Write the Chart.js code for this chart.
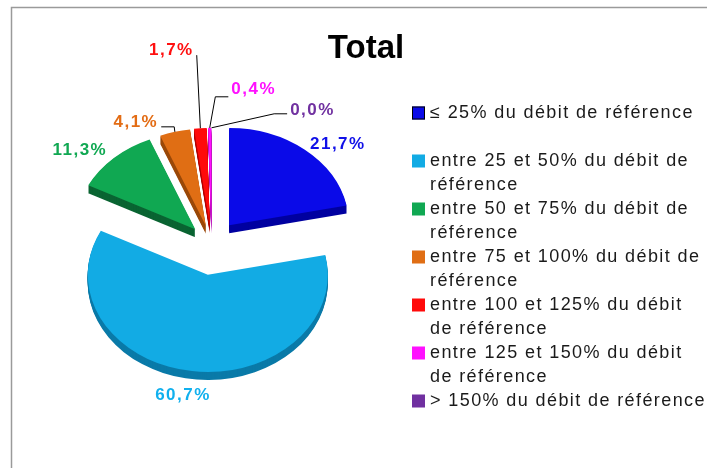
<!DOCTYPE html>
<html>
<head>
<meta charset="utf-8">
<script src="https://cdn.jsdelivr.net/npm/chart.js@4.4.0/dist/chart.umd.min.js"></script>
<style>
  body { margin: 0; background: #fff; }
  #chart { display: block; }
</style>
</head>
<body>
<canvas id="chart" width="707" height="468"></canvas>
<script>
// Data
const chartTitle = "Total";
const categories = [
  "≤ 25% du débit de référence",
  "entre 25 et 50% du débit de référence",
  "entre 50 et 75% du débit de référence",
  "entre 75 et 100% du débit de référence",
  "entre 100 et 125% du débit de référence",
  "entre 125 et 150% du débit de référence",
  "> 150% du débit de référence"
];
const shares = [21.7, 60.7, 11.3, 4.1, 1.7, 0.4, 0.0];

// Styles
const sliceColors = ["#0a0ae8", "#12abe4", "#10a852", "#e06e14", "#ff0a0a", "#ff10ff", "#7030a0"];
const sideColors = ["#0000a0", "#0a7aa8", "#0a6432", "#9a4808", "#b00000", "#b000b0", "#4a1a70"];
const labelColors = ["#1010e8", "#10b0ee", "#10a852", "#e36c14", "#ff1010", "#ff10ff", "#7030a0"];
const tilt = 0.81;      // vertical squash of the pie
const depth = 8;        // 3D thickness in px
const explode = [28, 28, 24, 22, 22, 22, 22];
const labelNudge = [[33, -6], [-9, 24], [-34, -8], [-39, -10], [-29, -78], [44, -38], [101, -17]];
const leaders = [null, null, null,
  { side: "right", stub: 13, dy: 5 },
  { side: "right", stub: 0, dy: 5 },
  { side: "left", stub: 13, dy: 7 },
  { side: "left", stub: 13, dy: 3 }];

// Frame round the chart
const framePlugin = {
  id: "frame",
  beforeDraw(chart) {
    const ctx = chart.ctx;
    ctx.save();
    ctx.fillStyle = "#fff";
    ctx.fillRect(0, 0, chart.width, chart.height);
    ctx.strokeStyle = "#9a9a9a";
    ctx.lineWidth = 1.5;
    ctx.beginPath();
    ctx.moveTo(11.5, chart.height);
    ctx.lineTo(11.5, 7.5);
    ctx.lineTo(chart.width, 7.5);
    ctx.stroke();
    ctx.restore();
  }
};

// Tilted, exploded pie with a bit of thickness
const pie3dPlugin = {
  id: "pie3d",
  beforeDatasetsDraw(chart) {
    const ctx = chart.ctx;
    const arcs = chart.getDatasetMeta(0).data;

    const withFrame = (a, i, extraY, fn) => {
      const m = (a.startAngle + a.endAngle) / 2;
      ctx.save();
      ctx.translate(Math.cos(m) * explode[i], Math.sin(m) * explode[i] + extraY);
      ctx.translate(a.x, a.y);
      ctx.scale(1, tilt);
      ctx.translate(-a.x, -a.y);
      fn();
      ctx.restore();
    };

    // sides first
    arcs.forEach((a, i) => {
      if (a.endAngle - a.startAngle <= 0) return;
      for (let t = depth; t >= 1; t--) {
        withFrame(a, i, t, () => {
          ctx.fillStyle = sideColors[i];
          ctx.beginPath();
          ctx.moveTo(a.x, a.y);
          ctx.arc(a.x, a.y, a.outerRadius, a.startAngle, a.endAngle);
          ctx.closePath();
          ctx.fill();
        });
      }
    });
    // tops
    arcs.forEach((a, i) => withFrame(a, i, 0, () => a.draw(ctx)));
    return false;
  }
};

// Percent labels and leader lines (afterDraw, since the default dataset draw is skipped)
const labelPlugin = {
  id: "sliceLabels",
  afterDraw(chart) {
    const ctx = chart.ctx;
    const arcs = chart.getDatasetMeta(0).data;
    const vals = chart.data.datasets[0].data;
    ctx.save();
    ctx.font = 'bold 17px "Liberation Sans", Arial, sans-serif';
    ctx.letterSpacing = "1.5px";
    ctx.textAlign = "center";
    ctx.textBaseline = "middle";
    arcs.forEach((a, i) => {
      const m = (a.startAngle + a.endAngle) / 2;
      const px = a.x + Math.cos(m) * (explode[i] + a.outerRadius);
      const py = a.y + Math.sin(m) * (explode[i] + a.outerRadius * tilt);
      const lx = px + labelNudge[i][0];
      const ly = py + labelNudge[i][1];
      const text = vals[i].toFixed(1).replace(".", ",") + "%";
      const w = ctx.measureText(text).width;
      ctx.fillStyle = labelColors[i];
      ctx.fillText(text, lx, ly);

      const ld = leaders[i];
      if (ld) {
        const dir = ld.side === "right" ? 1 : -1;
        const ex = lx + dir * (w / 2 + 3);
        const ey = ly + ld.dy;
        ctx.strokeStyle = "#000";
        ctx.lineWidth = 1;
        ctx.beginPath();
        ctx.moveTo(ex, ey);
        ctx.lineTo(ex + dir * ld.stub, ey);
        ctx.lineTo(px, py);
        ctx.stroke();
      }
    });
    ctx.restore();
  }
};

// Title and legend
const legendPlugin = {
  id: "sideLegend",
  afterDraw(chart) {
    const ctx = chart.ctx;
    ctx.save();
    ctx.fillStyle = "#000";
    ctx.font = 'bold 33px "Liberation Sans", Arial, sans-serif';
    ctx.textAlign = "center";
    ctx.textBaseline = "alphabetic";
    ctx.fillText(chartTitle, 366, 58);

    ctx.font = '18px "Liberation Sans", Arial, sans-serif';
    ctx.letterSpacing = "1.4px";
    ctx.textAlign = "left";
    ctx.textBaseline = "middle";
    const boxX = 412, textX = 430, maxW = 278;
    const firstY = 113, itemStep = 48, lineStep = 24.5;
    chart.data.labels.forEach((lab, i) => {
      const y = firstY + i * itemStep;
      ctx.fillStyle = sliceColors[i];
      ctx.fillRect(boxX, y - 6.5, 13, 13);
      if (i === 0) {
        ctx.strokeStyle = "#000";
        ctx.lineWidth = 1;
        ctx.strokeRect(boxX + 0.5, y - 6, 12, 12);
      }
      // wrap words
      const words = lab.split(" ");
      const lines = [];
      let cur = "";
      words.forEach(wd => {
        const test = cur ? cur + " " + wd : wd;
        if (ctx.measureText(test).width > maxW && cur) {
          lines.push(cur);
          cur = wd;
        } else {
          cur = test;
        }
      });
      lines.push(cur);
      ctx.fillStyle = "#1a1a1a";
      lines.forEach((ln, j) => ctx.fillText(ln, textX, y + j * lineStep));
    });
    ctx.restore();
  }
};

new Chart(document.getElementById("chart"), {
  type: "pie",
  data: {
    labels: categories,
    datasets: [{
      data: shares,
      backgroundColor: sliceColors,
      borderWidth: 0,
      radius: 120
    }]
  },
  options: {
    responsive: false,
    animation: false,
    layout: { padding: { left: 0, right: 284, top: 26, bottom: 0 } },
    plugins: {
      legend: { display: false },
      title: { display: false },
      tooltip: { enabled: false }
    }
  },
  plugins: [framePlugin, pie3dPlugin, labelPlugin, legendPlugin]
});
</script>
</body>
</html>
